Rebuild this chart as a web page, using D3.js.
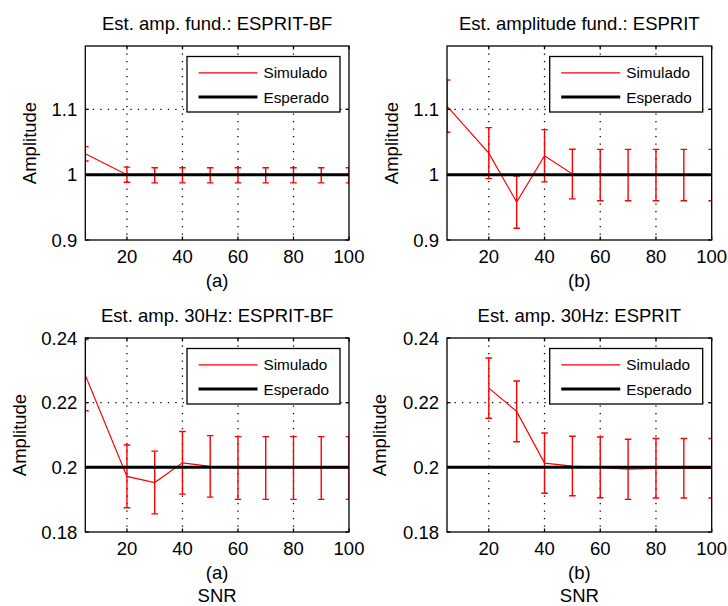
<!DOCTYPE html>
<html>
<head>
<meta charset="utf-8">
<script src="https://cdn.jsdelivr.net/npm/d3@7"></script>
<style>
  html, body { margin: 0; padding: 0; background: #fff; }
  svg { display: block; }
  text { font-family: "Liberation Sans", Arial, sans-serif; fill: #000; }
</style>
</head>
<body>
<svg id="chart" width="728" height="606"></svg>
<script>
// ---- data ----
const snr = [5, 20, 30, 40, 50, 60, 70, 80, 90, 100];

const ampFundBF = [1.032, 1.0, 0.999, 0.999, 0.999, 0.999, 0.999, 0.999, 0.999, 0.999];
const errFundBF = [0.011, 0.0115, 0.0115, 0.0115, 0.0115, 0.0115, 0.0115, 0.0115, 0.0115, 0.0115];

const ampFund = [1.105, 1.033, 0.958, 1.029, 1.001, 0.9995, 0.9995, 0.9995, 0.9995, 0.9995];
const errFund = [0.04, 0.039, 0.04, 0.04, 0.038, 0.0393, 0.0393, 0.0393, 0.0393, 0.0393];

const amp30BF = [0.2285, 0.1972, 0.1953, 0.2014, 0.2003, 0.1998, 0.1998, 0.1998, 0.1998, 0.1998];
const err30BF = [0.011, 0.0097, 0.0097, 0.0097, 0.0095, 0.0097, 0.0097, 0.0097, 0.0097, 0.0097];

const amp30 = [null, 0.2245, 0.2173, 0.2013, 0.2004, 0.2, 0.1994, 0.1997, 0.1997, 0.1997];
const err30 = [null, 0.0093, 0.0094, 0.0093, 0.0092, 0.0094, 0.0093, 0.0092, 0.0092, 0.0092];

const expectedFund = [1, 1, 1, 1, 1, 1, 1, 1, 1, 1];
const expected30 = [0.2, 0.2, 0.2, 0.2, 0.2, 0.2, 0.2, 0.2, 0.2, 0.2];

const xTicks = [20, 40, 60, 80, 100];
const yTicksFund = [0.9, 1, 1.1];
const yTicks30 = [0.18, 0.2, 0.22, 0.24];

const titles = ["Est. amp. fund.: ESPRIT-BF", "Est. amplitude fund.: ESPRIT",
                "Est. amp. 30Hz: ESPRIT-BF", "Est. amp. 30Hz: ESPRIT"];
const subLabels = ["(a)", "(b)", "(a)", "(b)"];
const legendLabels = ["Simulado", "Esperado"];
const xLabel = "SNR";
const yLabel = "Amplitude";

// ---- layout ----
const svg = d3.select("#chart");
const panels = [
  {x0: 85.3, x1: 349, y0: 46, y1: 240, vals: ampFundBF, errs: errFundBF, exp: expectedFund,
   ydom: [0.9, 1.197], yticks: yTicksFund, fmt: d3.format(".1~f"), ylx: 35.5, snr: false},
  {x0: 447, x1: 711.7, y0: 46, y1: 240, vals: ampFund, errs: errFund, exp: expectedFund,
   ydom: [0.9, 1.197], yticks: yTicksFund, fmt: d3.format(".1~f"), ylx: 398, snr: false},
  {x0: 85.3, x1: 349, y0: 338, y1: 532, vals: amp30BF, errs: err30BF, exp: expected30,
   ydom: [0.18, 0.24], yticks: yTicks30, fmt: d3.format(".2~f"), ylx: 26, snr: true},
  {x0: 447, x1: 711.7, y0: 338, y1: 532, vals: amp30, errs: err30, exp: expected30,
   ydom: [0.18, 0.24], yticks: yTicks30, fmt: d3.format(".2~f"), ylx: 386, snr: true}
];

const FONT = 18.5;

panels.forEach((p, i) => {
  const x = d3.scaleLinear().domain([5, 100]).range([p.x0, p.x1]);
  const y = d3.scaleLinear().domain(p.ydom).range([p.y1, p.y0]);
  const g = svg.append("g");
  const clipId = "clip" + i;
  svg.append("clipPath").attr("id", clipId).append("rect")
    .attr("x", p.x0).attr("y", p.y0).attr("width", p.x1 - p.x0).attr("height", p.y1 - p.y0);

  g.append("rect").attr("x", p.x0).attr("y", p.y0).attr("width", p.x1 - p.x0).attr("height", p.y1 - p.y0)
    .attr("fill", "#fff");

  // grid
  const grid = g.append("g").attr("stroke", "#000").attr("stroke-width", 1.3)
    .attr("stroke-dasharray", "1.3,6.2");
  xTicks.filter(t => t < 100).forEach(t => {
    grid.append("line").attr("x1", x(t)).attr("x2", x(t)).attr("y1", p.y0).attr("y2", p.y1);
  });
  p.yticks.filter(t => y(t) > p.y0 + 1 && y(t) < p.y1 - 1).forEach(t => {
    grid.append("line").attr("x1", p.x0).attr("x2", p.x1).attr("y1", y(t)).attr("y2", y(t));
  });

  // data
  const data = snr.map((s, k) => ({s, v: p.vals[k], e: p.errs[k], ex: p.exp[k]}));
  const dg = g.append("g").attr("clip-path", `url(#${clipId})`);
  const line = d3.line().defined(d => d.v != null).x(d => x(d.s)).y(d => y(d.v));
  dg.append("path").datum(data).attr("d", line).attr("fill", "none")
    .attr("stroke", "#ff0000").attr("stroke-width", 1.2);
  const eb = dg.append("g").attr("stroke", "#ff0000").attr("stroke-width", 1.4);
  const cw = 3.3;
  data.filter(d => d.v != null).forEach(d => {
    const xx = x(d.s), yt = y(d.v + d.e), yb = y(d.v - d.e);
    eb.append("line").attr("x1", xx).attr("x2", xx).attr("y1", yt).attr("y2", yb);
    eb.append("line").attr("x1", xx - cw).attr("x2", xx + cw).attr("y1", yt).attr("y2", yt);
    eb.append("line").attr("x1", xx - cw).attr("x2", xx + cw).attr("y1", yb).attr("y2", yb);
  });
  const lineExp = d3.line().x(d => x(d.s)).y(d => y(d.ex));
  dg.append("path").datum(data).attr("d", lineExp).attr("fill", "none")
    .attr("stroke", "#000").attr("stroke-width", 3);

  // axes box + ticks
  const tl = 3.5;
  const axG = g.append("g").attr("stroke", "#000").attr("stroke-width", 1.3);
  xTicks.forEach(t => {
    axG.append("line").attr("x1", x(t)).attr("x2", x(t)).attr("y1", p.y1).attr("y2", p.y1 - tl);
    axG.append("line").attr("x1", x(t)).attr("x2", x(t)).attr("y1", p.y0).attr("y2", p.y0 + tl);
  });
  p.yticks.forEach(t => {
    axG.append("line").attr("x1", p.x0).attr("x2", p.x0 + tl).attr("y1", y(t)).attr("y2", y(t));
    axG.append("line").attr("x1", p.x1).attr("x2", p.x1 - tl).attr("y1", y(t)).attr("y2", y(t));
  });
  axG.append("rect").attr("x", p.x0).attr("y", p.y0).attr("width", p.x1 - p.x0).attr("height", p.y1 - p.y0)
    .attr("fill", "none");

  // tick labels
  xTicks.forEach(t => {
    g.append("text").attr("x", x(t)).attr("y", p.y1 + 23.3).attr("text-anchor", "middle")
      .attr("font-size", FONT).text(t);
  });
  p.yticks.forEach(t => {
    g.append("text").attr("x", p.x0 - 8).attr("y", y(t)).attr("dy", "0.36em").attr("text-anchor", "end")
      .attr("font-size", FONT).text(p.fmt(t));
  });

  const cx = (p.x0 + p.x1) / 2;
  g.append("text").attr("x", cx).attr("y", p.y0 - 16.5).attr("text-anchor", "middle")
    .attr("font-size", FONT).text(titles[i]);
  g.append("text").attr("x", cx).attr("y", p.y1 + 46.5).attr("text-anchor", "middle")
    .attr("font-size", FONT).text(subLabels[i]);
  if (p.snr) {
    g.append("text").attr("x", cx).attr("y", p.y1 + 69.5).attr("text-anchor", "middle")
      .attr("font-size", FONT).text(xLabel);
  }
  const cy = (p.y0 + p.y1) / 2;
  g.append("text").attr("transform", `translate(${p.ylx},${cy}) rotate(-90)`)
    .attr("text-anchor", "middle").attr("font-size", FONT).text(yLabel);

  // legend
  const lw = 153, lh = 55.5;
  const lx = p.x1 - 9 - lw, ly = p.y0 + 10.5;
  const lg = g.append("g");
  lg.append("rect").attr("x", lx).attr("y", ly).attr("width", lw).attr("height", lh)
    .attr("fill", "#fff").attr("stroke", "#000").attr("stroke-width", 1.3);
  const rows = [{c: "#ff0000", w: 1.2, yy: 16.3}, {c: "#000", w: 3, yy: 40.5}];
  rows.forEach((r, k) => {
    lg.append("line").attr("x1", lx + 11.5).attr("x2", lx + 70.5).attr("y1", ly + r.yy).attr("y2", ly + r.yy)
      .attr("stroke", r.c).attr("stroke-width", r.w);
    lg.append("text").attr("x", lx + 76.5).attr("y", ly + r.yy).attr("dy", "0.36em")
      .attr("font-size", 15.3).text(legendLabels[k]);
  });
});
</script>
</body>
</html>
